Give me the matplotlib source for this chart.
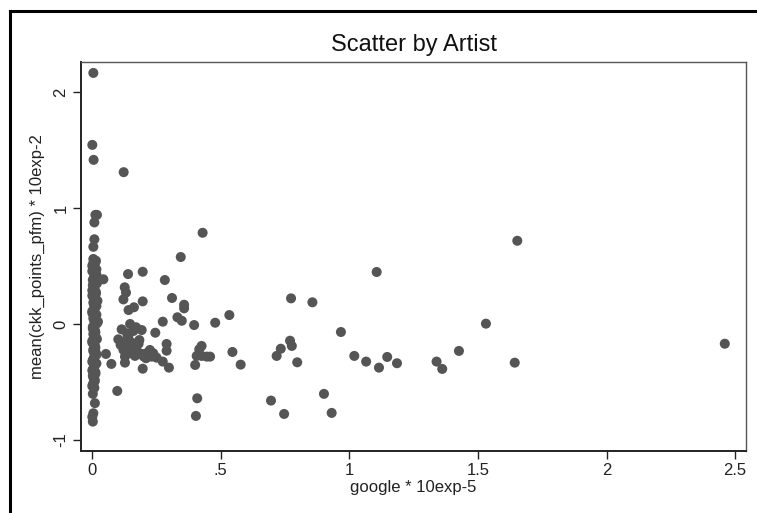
import matplotlib
matplotlib.use('Agg')
import matplotlib.pyplot as plt
from matplotlib.lines import Line2D

plt.rcParams['font.family'] = ['Liberation Sans', 'DejaVu Sans']

# points away from the zero column
google = [0.004, 0.000, 0.005, 0.122, 0.018, 0.012, 0.008, 0.008, 0.004, 0.008,
          0.004, 0.429, 0.344, 0.043, 0.139, 0.196, 0.282, 0.126, 0.131, 0.121,
          0.196, 0.310, 0.357, 0.357, 0.141, 0.162, 0.274, 0.331, 0.348, 0.396,
          0.478, 0.533, 0.147, 0.114, 0.192, 0.170, 0.245, 0.101, 0.121, 0.140,
          0.153, 0.183, 0.289, 0.289, 0.053, 0.121, 0.127, 0.147, 0.166, 0.192,
          0.211, 0.224, 0.231, 0.237, 0.209, 0.074, 0.127, 0.196, 0.274, 0.298,
          0.400, 0.425, 0.416, 0.406, 0.425, 0.445, 0.458, 0.545, 0.577, 0.097,
          0.408, 0.403, 0.695, 0.746, 0.717, 0.733, 0.769, 0.776, 0.773, 0.797,
          0.856, 0.901, 0.931, 0.967, 1.019, 1.106, 1.653, 1.531, 1.426, 1.065,
          1.115, 1.147, 1.185, 1.339, 1.361, 1.643, 2.460,
          0.002, 0.010, 0.004, 0.000, 0.002,
          0.132, 0.158, 0.176, 0.200, 0.110, 0.135, 0.180, 0.215, 0.160, 0.250]
points = [2.163, 1.543, 1.414, 1.308, 0.940, 0.940, 0.875, 0.730, 0.665, 0.536,
          0.508, 0.786, 0.577, 0.385, 0.430, 0.450, 0.379, 0.316, 0.270, 0.212,
          0.195, 0.224, 0.166, 0.135, 0.120, 0.144, 0.020, 0.058, 0.028, -0.009,
          0.011, 0.077, 0.000, -0.046, -0.052, -0.028, -0.075, -0.132, -0.152, -0.114,
          -0.161, -0.138, -0.172, -0.230, -0.258, -0.223, -0.281, -0.252, -0.275, -0.258,
          -0.252, -0.224, -0.281, -0.252, -0.295, -0.344, -0.333, -0.385, -0.324, -0.376,
          -0.353, -0.189, -0.218, -0.275, -0.275, -0.281, -0.281, -0.241, -0.350, -0.577,
          -0.640, -0.792, -0.660, -0.775, -0.275, -0.213, -0.144, -0.189, 0.221, -0.330,
          0.187, -0.602, -0.766, -0.069, -0.275, 0.448, 0.717, 0.003, -0.232, -0.324,
          -0.376, -0.284, -0.338, -0.324, -0.387, -0.333, -0.170,
          -0.602, -0.682, -0.769, -0.800, -0.841,
          -0.190, -0.210, -0.240, -0.280, -0.180, -0.080, -0.170, -0.270, -0.060, -0.290]

# the dense column of artists with google close to zero
col_google = [0.004, 0.012, 0.000, 0.016, 0.006, 0.010, 0.002, 0.018, 0.008, 0.000,
              0.014, 0.004, 0.020, 0.006, 0.010, 0.000, 0.016, 0.004, 0.022, 0.008,
              0.002, 0.012, 0.006, 0.018, 0.000, 0.010, 0.004, 0.014, 0.008, 0.002,
              0.016, 0.006, 0.000, 0.012, 0.004, 0.010, 0.002, 0.008,
              0.014, 0.002, 0.010, 0.000, 0.016, 0.006, 0.012, 0.002, 0.008, 0.014,
              0.000, 0.010, 0.004, 0.016, 0.008, 0.000, 0.012, 0.006, 0.018, 0.002,
              0.010, 0.004, 0.014, 0.000, 0.008, 0.012, 0.004, 0.016, 0.006, 0.000,
              0.010, 0.004, 0.012, 0.002, 0.008, 0.006, 0.000]
col_points = [0.56, 0.53, 0.50, 0.47, 0.44, 0.41, 0.38, 0.35, 0.32, 0.29,
              0.26, 0.23, 0.20, 0.17, 0.14, 0.11, 0.08, 0.05, 0.02, -0.01,
              -0.04, -0.07, -0.10, -0.13, -0.16, -0.19, -0.22, -0.25, -0.28, -0.31,
              -0.34, -0.37, -0.40, -0.43, -0.46, -0.49, -0.52, -0.55,
              0.545, 0.515, 0.485, 0.455, 0.425, 0.395, 0.365, 0.335, 0.305, 0.275,
              0.245, 0.215, 0.185, 0.155, 0.125, 0.095, 0.065, 0.035, 0.005, -0.025,
              -0.055, -0.085, -0.115, -0.145, -0.175, -0.205, -0.235, -0.265, -0.295, -0.325,
              -0.355, -0.385, -0.415, -0.445, -0.475, -0.505, -0.535]

x_ticks = [0, 0.5, 1, 1.5, 2, 2.5]
x_labels = ['0', '.5', '1', '1.5', '2', '2.5']
y_ticks = [-1, 0, 1, 2]
y_labels = ['-1', '0', '1', '2']

fig = plt.figure(figsize=(7.57, 5.13), dpi=100)
ax = fig.add_axes([0.107, 0.1209, 0.8785, 0.7582])

dot = '#555555'
ax.scatter(col_google, col_points, s=52, color=dot, edgecolors='none')
ax.scatter(google, points, s=52, color=dot, edgecolors='none')

ax.set_xlim(-0.044, 2.5426)
ax.set_ylim(-1.094, 2.257)
ax.set_xticks(x_ticks)
ax.set_xticklabels(x_labels)
ax.set_yticks(y_ticks)
ax.set_yticklabels(y_labels, rotation=90, va='center')
ax.tick_params(direction='out', length=6, width=1, labelsize=12, colors='#222222', pad=3)

for side in ['left', 'bottom']:
    ax.spines[side].set_linewidth(1.4)
    ax.spines[side].set_color('#222222')
for side in ['top', 'right']:
    ax.spines[side].set_linewidth(1.0)
    ax.spines[side].set_color('#555555')

ax.set_xlabel('google * 10exp-5', fontsize=12, labelpad=1, color='#222222')
ax.set_ylabel('mean(ckk_points_pfm) * 10exp-2', fontsize=12, labelpad=6, color='#222222')
fig.text(0.547, 0.913, 'Scatter by Artist', fontsize=17, ha='center', va='center', color='#111111')

# black frame lines on top and left of the image
fig.add_artist(Line2D([10 / 757, 1], [1 - 11 / 513, 1 - 11 / 513], color='black', lw=2.2))
fig.add_artist(Line2D([10 / 757, 10 / 757], [0, 1 - 11 / 513], color='black', lw=2.2))

fig.savefig('out.png', dpi=100)
